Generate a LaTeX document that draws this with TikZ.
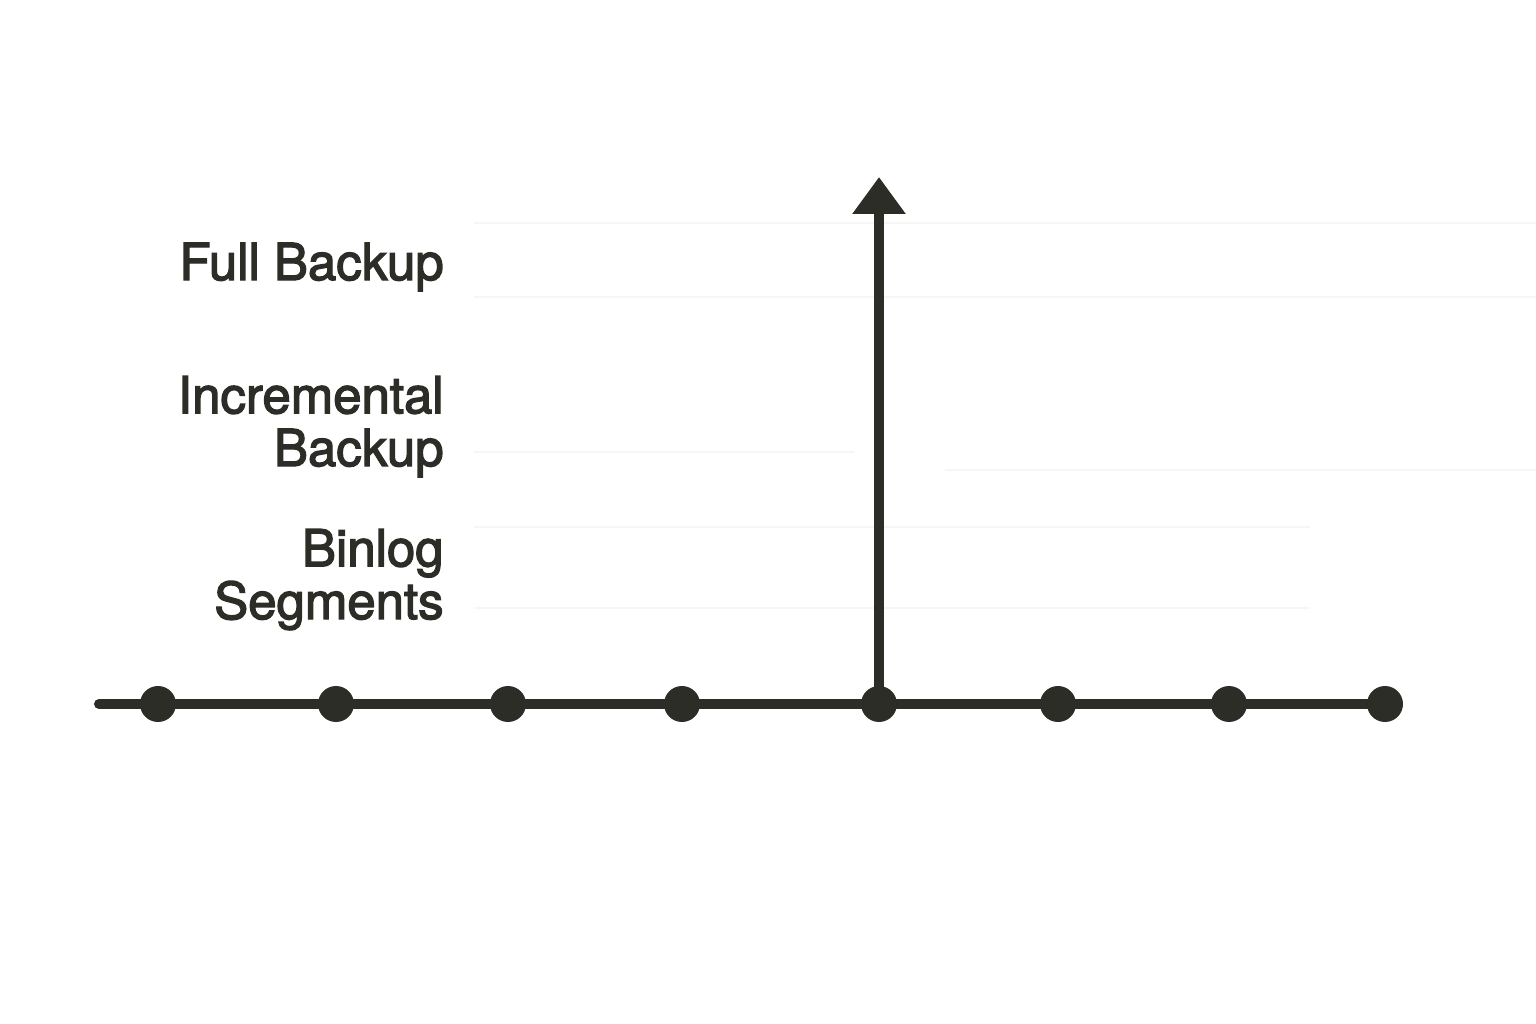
\documentclass[tikz,border=0pt]{standalone}
\usepackage{fontspec}
\setmainfont{TeX Gyre Heros}
\newfontfamily\labfont{TeX Gyre Heros}[FakeBold=2.6]
\usetikzlibrary{arrows.meta}
\definecolor{ink}{HTML}{2D2D28}
\definecolor{faint}{HTML}{F6F6F4}
\begin{document}
\begin{tikzpicture}[x=0.02cm,y=-0.02cm,
  lab/.style={anchor=base east,inner sep=0pt,text=ink,font=\labfont\fontsize{29}{30}\selectfont,align=right},
  dot/.style={circle,fill=ink,inner sep=0pt,minimum size=0.72cm},
  tl/.style={draw=ink,line width=0.2cm,line cap=round},
  band/.style={draw=faint,line width=1.2pt}]
\useasboundingbox (0,0) rectangle (1536,1024);
% faint band lines
\draw[band] (474,223) -- (1536,223);
\draw[band] (474,297) -- (1536,297);
\draw[band] (474,452) -- (855,452);
\draw[band] (945,470) -- (1536,470);
\draw[band] (474,527) -- (1310,527);
\draw[band] (474,608) -- (1310,608);
% labels
\node[lab] (full) at (444,280) {Full Backup};
\node[lab] (inc) at (444,466) {Incremental\\Backup};
\node[lab] (bin) at (444,619) {Binlog\\Segments};
% timeline
\coordinate (start) at (99,704);
\node[dot] (d1) at (158,704) {};
\node[dot] (d2) at (336,704) {};
\node[dot] (d3) at (508,704) {};
\node[dot] (d4) at (682,704) {};
\node[dot] (d5) at (879,704) {};
\node[dot] (d6) at (1058,704) {};
\node[dot] (d7) at (1229,704) {};
\node[dot] (d8) at (1385,704) {};
\draw[tl] (start) -- (d8.center);
\coordinate (top) at (879,177);
\draw[draw=ink,line width=0.2cm,-{Triangle[length=0.74cm,width=1.02cm]}] (d5.center) -- (top);
\end{tikzpicture}
\end{document}
